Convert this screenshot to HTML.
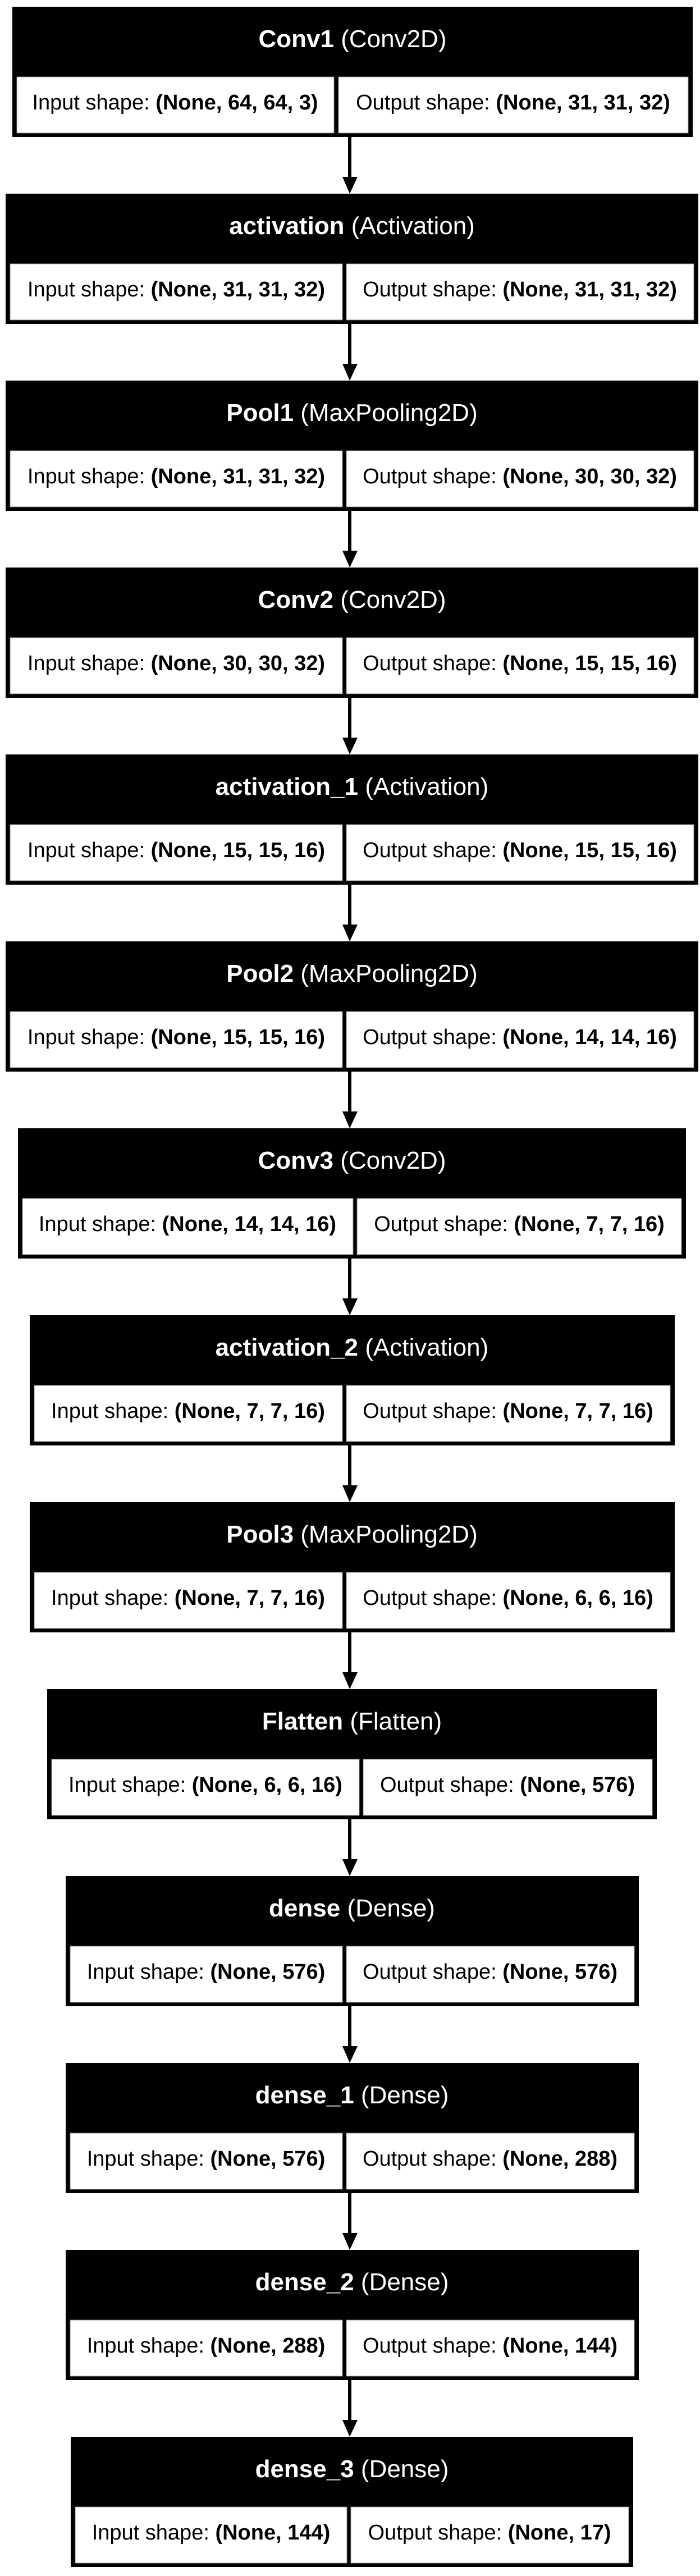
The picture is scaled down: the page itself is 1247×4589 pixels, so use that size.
<!DOCTYPE html>
<html><head><meta charset="utf-8"><style>
html,body{margin:0;padding:0;background:#fff;}
svg{display:block;}
text{font-family:"Liberation Sans",Arial,sans-serif;}
</style></head><body>
<svg xmlns="http://www.w3.org/2000/svg" width="1247" height="4589" viewBox="0 0 1247 4589">
<rect width="1247" height="4589" fill="#fff"/>
<g font-size="38" fill="#000">
<rect x="22" y="12" width="1212" height="232" fill="#000"/>
<rect x="30" y="137" width="565" height="100" fill="#fff" stroke="#888" stroke-width="1"/>
<rect x="603" y="137" width="623" height="100" fill="#fff" stroke="#888" stroke-width="1"/>
<text x="628" y="84" font-size="44" fill="#fff" text-anchor="middle"><tspan font-weight="bold">Conv1</tspan> (Conv2D)</text>
<text x="312" y="195" text-anchor="middle">Input shape: <tspan font-weight="bold">(None, 64, 64, 3)</tspan></text>
<text x="914" y="195" text-anchor="middle">Output shape: <tspan font-weight="bold">(None, 31, 31, 32)</tspan></text>
</g>
<g font-size="38" fill="#000">
<rect x="10" y="345" width="1234" height="232" fill="#000"/>
<rect x="18" y="470" width="592" height="100" fill="#fff" stroke="#888"/>
<rect x="617" y="470" width="619" height="100" fill="#fff" stroke="#888"/>
<text x="627" y="417" font-size="44" fill="#fff" text-anchor="middle"><tspan font-weight="bold">activation</tspan> (Activation)</text>
<text x="314" y="528" text-anchor="middle">Input shape: <tspan font-weight="bold">(None, 31, 31, 32)</tspan></text>
<text x="926" y="528" text-anchor="middle">Output shape: <tspan font-weight="bold">(None, 31, 31, 32)</tspan></text>
<rect x="10" y="678" width="1234" height="232" fill="#000"/>
<rect x="18" y="803" width="592" height="100" fill="#fff" stroke="#888"/>
<rect x="617" y="803" width="619" height="100" fill="#fff" stroke="#888"/>
<text x="627" y="750" font-size="44" fill="#fff" text-anchor="middle"><tspan font-weight="bold">Pool1</tspan> (MaxPooling2D)</text>
<text x="314" y="861" text-anchor="middle">Input shape: <tspan font-weight="bold">(None, 31, 31, 32)</tspan></text>
<text x="926" y="861" text-anchor="middle">Output shape: <tspan font-weight="bold">(None, 30, 30, 32)</tspan></text>
<rect x="10" y="1011" width="1234" height="232" fill="#000"/>
<rect x="18" y="1136" width="592" height="100" fill="#fff" stroke="#888"/>
<rect x="617" y="1136" width="619" height="100" fill="#fff" stroke="#888"/>
<text x="627" y="1083" font-size="44" fill="#fff" text-anchor="middle"><tspan font-weight="bold">Conv2</tspan> (Conv2D)</text>
<text x="314" y="1194" text-anchor="middle">Input shape: <tspan font-weight="bold">(None, 30, 30, 32)</tspan></text>
<text x="926" y="1194" text-anchor="middle">Output shape: <tspan font-weight="bold">(None, 15, 15, 16)</tspan></text>
<rect x="10" y="1344" width="1234" height="232" fill="#000"/>
<rect x="18" y="1469" width="592" height="100" fill="#fff" stroke="#888"/>
<rect x="617" y="1469" width="619" height="100" fill="#fff" stroke="#888"/>
<text x="627" y="1416" font-size="44" fill="#fff" text-anchor="middle"><tspan font-weight="bold">activation_1</tspan> (Activation)</text>
<text x="314" y="1527" text-anchor="middle">Input shape: <tspan font-weight="bold">(None, 15, 15, 16)</tspan></text>
<text x="926" y="1527" text-anchor="middle">Output shape: <tspan font-weight="bold">(None, 15, 15, 16)</tspan></text>
<rect x="10" y="1677" width="1234" height="232" fill="#000"/>
<rect x="18" y="1802" width="592" height="100" fill="#fff" stroke="#888"/>
<rect x="617" y="1802" width="619" height="100" fill="#fff" stroke="#888"/>
<text x="627" y="1749" font-size="44" fill="#fff" text-anchor="middle"><tspan font-weight="bold">Pool2</tspan> (MaxPooling2D)</text>
<text x="314" y="1860" text-anchor="middle">Input shape: <tspan font-weight="bold">(None, 15, 15, 16)</tspan></text>
<text x="926" y="1860" text-anchor="middle">Output shape: <tspan font-weight="bold">(None, 14, 14, 16)</tspan></text>
<rect x="32" y="2010" width="1190" height="232" fill="#000"/>
<rect x="40" y="2135" width="589" height="100" fill="#fff" stroke="#888"/>
<rect x="636" y="2135" width="578" height="100" fill="#fff" stroke="#888"/>
<text x="627" y="2082" font-size="44" fill="#fff" text-anchor="middle"><tspan font-weight="bold">Conv3</tspan> (Conv2D)</text>
<text x="334" y="2193" text-anchor="middle">Input shape: <tspan font-weight="bold">(None, 14, 14, 16)</tspan></text>
<text x="925" y="2193" text-anchor="middle">Output shape: <tspan font-weight="bold">(None, 7, 7, 16)</tspan></text>
<rect x="53" y="2343" width="1149" height="232" fill="#000"/>
<rect x="61" y="2468" width="549" height="100" fill="#fff" stroke="#888"/>
<rect x="617" y="2468" width="577" height="100" fill="#fff" stroke="#888"/>
<text x="627" y="2415" font-size="44" fill="#fff" text-anchor="middle"><tspan font-weight="bold">activation_2</tspan> (Activation)</text>
<text x="335" y="2526" text-anchor="middle">Input shape: <tspan font-weight="bold">(None, 7, 7, 16)</tspan></text>
<text x="905" y="2526" text-anchor="middle">Output shape: <tspan font-weight="bold">(None, 7, 7, 16)</tspan></text>
<rect x="53" y="2676" width="1149" height="232" fill="#000"/>
<rect x="61" y="2801" width="549" height="100" fill="#fff" stroke="#888"/>
<rect x="617" y="2801" width="577" height="100" fill="#fff" stroke="#888"/>
<text x="627" y="2748" font-size="44" fill="#fff" text-anchor="middle"><tspan font-weight="bold">Pool3</tspan> (MaxPooling2D)</text>
<text x="335" y="2859" text-anchor="middle">Input shape: <tspan font-weight="bold">(None, 7, 7, 16)</tspan></text>
<text x="905" y="2859" text-anchor="middle">Output shape: <tspan font-weight="bold">(None, 6, 6, 16)</tspan></text>
<rect x="84" y="3009" width="1086" height="232" fill="#000"/>
<rect x="92" y="3134" width="548" height="100" fill="#fff" stroke="#888"/>
<rect x="647" y="3134" width="515" height="100" fill="#fff" stroke="#888"/>
<text x="627" y="3081" font-size="44" fill="#fff" text-anchor="middle"><tspan font-weight="bold">Flatten</tspan> (Flatten)</text>
<text x="366" y="3192" text-anchor="middle">Input shape: <tspan font-weight="bold">(None, 6, 6, 16)</tspan></text>
<text x="904" y="3192" text-anchor="middle">Output shape: <tspan font-weight="bold">(None, 576)</tspan></text>
<rect x="117" y="3342" width="1021" height="232" fill="#000"/>
<rect x="125" y="3467" width="485" height="100" fill="#fff" stroke="#888"/>
<rect x="617" y="3467" width="513" height="100" fill="#fff" stroke="#888"/>
<text x="627" y="3414" font-size="44" fill="#fff" text-anchor="middle"><tspan font-weight="bold">dense</tspan> (Dense)</text>
<text x="367" y="3525" text-anchor="middle">Input shape: <tspan font-weight="bold">(None, 576)</tspan></text>
<text x="873" y="3525" text-anchor="middle">Output shape: <tspan font-weight="bold">(None, 576)</tspan></text>
<rect x="117" y="3675" width="1021" height="232" fill="#000"/>
<rect x="125" y="3800" width="485" height="100" fill="#fff" stroke="#888"/>
<rect x="617" y="3800" width="513" height="100" fill="#fff" stroke="#888"/>
<text x="627" y="3747" font-size="44" fill="#fff" text-anchor="middle"><tspan font-weight="bold">dense_1</tspan> (Dense)</text>
<text x="367" y="3858" text-anchor="middle">Input shape: <tspan font-weight="bold">(None, 576)</tspan></text>
<text x="873" y="3858" text-anchor="middle">Output shape: <tspan font-weight="bold">(None, 288)</tspan></text>
<rect x="117" y="4008" width="1021" height="232" fill="#000"/>
<rect x="125" y="4133" width="485" height="100" fill="#fff" stroke="#888"/>
<rect x="617" y="4133" width="513" height="100" fill="#fff" stroke="#888"/>
<text x="627" y="4080" font-size="44" fill="#fff" text-anchor="middle"><tspan font-weight="bold">dense_2</tspan> (Dense)</text>
<text x="367" y="4191" text-anchor="middle">Input shape: <tspan font-weight="bold">(None, 288)</tspan></text>
<text x="873" y="4191" text-anchor="middle">Output shape: <tspan font-weight="bold">(None, 144)</tspan></text>
<rect x="126" y="4341" width="1002" height="232" fill="#000"/>
<rect x="134" y="4466" width="484" height="100" fill="#fff" stroke="#888"/>
<rect x="625" y="4466" width="495" height="100" fill="#fff" stroke="#888"/>
<text x="627" y="4413" font-size="44" fill="#fff" text-anchor="middle"><tspan font-weight="bold">dense_3</tspan> (Dense)</text>
<text x="376" y="4524" text-anchor="middle">Input shape: <tspan font-weight="bold">(None, 144)</tspan></text>
<text x="872" y="4524" text-anchor="middle">Output shape: <tspan font-weight="bold">(None, 17)</tspan></text>
</g>
<g fill="#000">
<rect x="620" y="244" width="6" height="72"/><polygon points="610,315 637,315 623,345"/>
<rect x="620" y="577" width="6" height="72"/><polygon points="610,648 637,648 623,678"/>
<rect x="620" y="910" width="6" height="72"/><polygon points="610,981 637,981 623,1011"/>
<rect x="620" y="1243" width="6" height="72"/><polygon points="610,1314 637,1314 623,1344"/>
<rect x="620" y="1576" width="6" height="72"/><polygon points="610,1647 637,1647 623,1677"/>
<rect x="620" y="1909" width="6" height="72"/><polygon points="610,1980 637,1980 623,2010"/>
<rect x="620" y="2242" width="6" height="72"/><polygon points="610,2313 637,2313 623,2343"/>
<rect x="620" y="2575" width="6" height="72"/><polygon points="610,2646 637,2646 623,2676"/>
<rect x="620" y="2908" width="6" height="72"/><polygon points="610,2979 637,2979 623,3009"/>
<rect x="620" y="3241" width="6" height="72"/><polygon points="610,3312 637,3312 623,3342"/>
<rect x="620" y="3574" width="6" height="72"/><polygon points="610,3645 637,3645 623,3675"/>
<rect x="620" y="3907" width="6" height="72"/><polygon points="610,3978 637,3978 623,4008"/>
<rect x="620" y="4240" width="6" height="72"/><polygon points="610,4311 637,4311 623,4341"/>
</g>
</svg>
</body></html>
